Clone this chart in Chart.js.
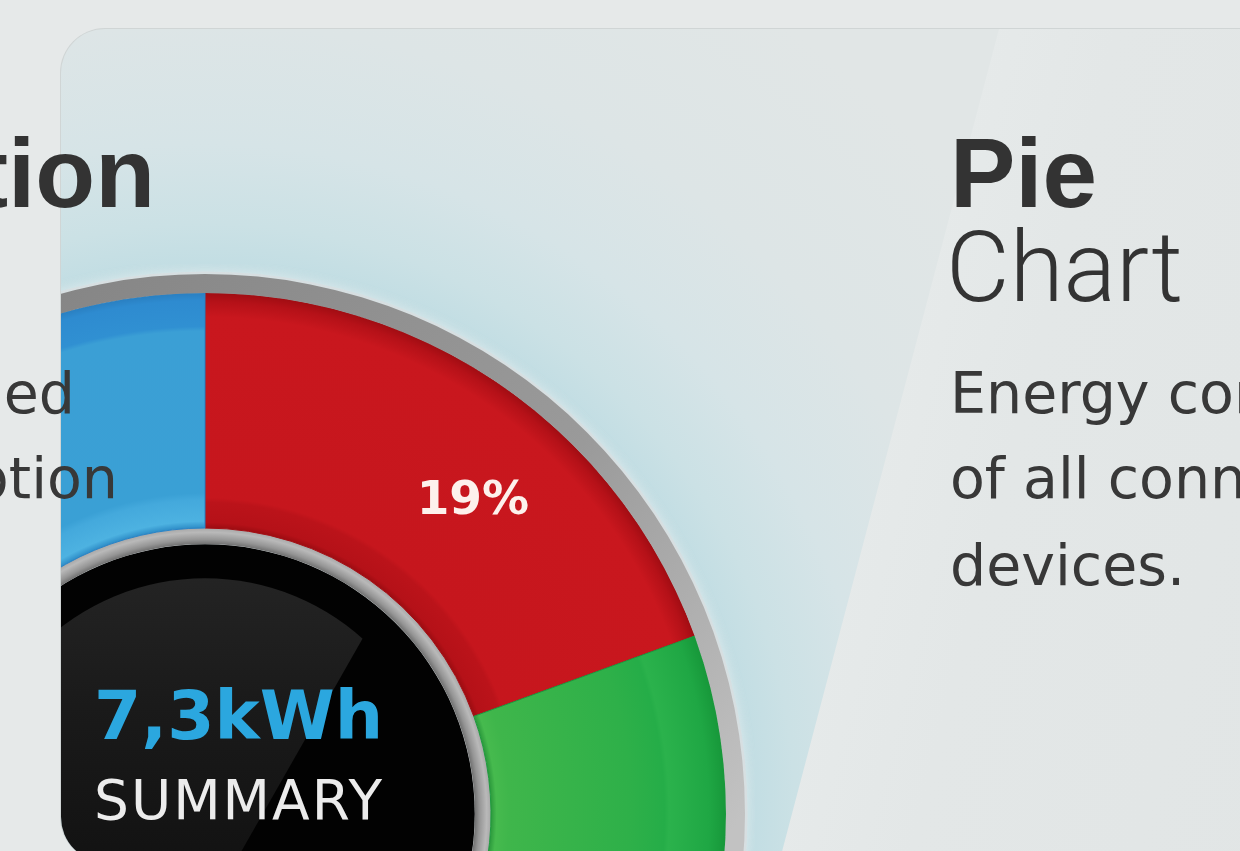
<!DOCTYPE html>
<html>
<head>
<meta charset="utf-8">
<title>Pie Chart</title>
<script src="https://cdn.jsdelivr.net/npm/chart.js@4.4.1/dist/chart.umd.min.js"></script>
<style>
  html, body { margin: 0; padding: 0; }
  body {
    width: 1240px; height: 851px; overflow: hidden; position: relative;
    background: #e6e9e9;
  }
  #panel {
    position: absolute; left: 60px; top: 28px; width: 1300px; height: 834px;
    border-radius: 45px; overflow: hidden;
    border-top: 1px solid #d0d5d5; border-left: 1px solid #d0d5d5;
    box-sizing: border-box;
    background:
      radial-gradient(circle 980px at 144px 785px, #bfdce3 0px, #c1dde3 542px, #cbe1e5 590px, #d6e4e7 670px, #dde5e6 790px, #e1e6e6 980px),
      #e1e6e6;
  }
  #glare {
    position: absolute; left: 0; top: 0; width: 1300px; height: 834px;
    clip-path: polygon(938px 0, 1300px 0, 1300px 834px, 718px 834px);
    background: linear-gradient(104deg, #e6eaea 0, #e6eaea 60%, #e3e7e7 70%, #e1e5e5 100%);
  }
  #chartBox {
    position: absolute; left: -406px; top: 235px; width: 1100px; height: 1100px;
  }
  .txt {
    position: absolute; height: 0; white-space: nowrap; color: #333;
  }
  .bold { font: bold 98px/0 "Liberation Sans", Arial, sans-serif; }
  .light { font: 300 98px/0 Roboto, "Liberation Sans", sans-serif; }
  .desc { font: 57px/0 "DejaVu Sans", Verdana, sans-serif; color: #383838; }
</style>
</head>
<body>
<div id="panel">
  <div id="glare"></div>
  <div id="chartBox"><canvas id="energyChart"></canvas></div>
</div>

<div class="txt bold" style="right:1085px; top:173px;">Consumption</div>
<div class="txt desc" style="right:1165px; top:393px;">Detailed</div>
<div class="txt desc" style="right:1122px; top:478px;">consumption</div>

<div class="txt bold" style="left:950px; top:173px;">Pie</div>
<div class="txt light" style="left:946px; top:268px;">Chart</div>
<div class="txt desc" style="left:950px; top:393px;">Energy consumption</div>
<div class="txt desc" style="left:950px; top:478px;">of all connected</div>
<div class="txt desc" style="left:950px; top:565px;">devices.</div>

<script>
// device consumption in kWh (only red + part of green/blue visible in the shot)
const devices = ['Heating', 'Kitchen', 'Laundry', 'Lighting'];
const consumption = [1.42, 2.08, 1.7, 2.1];
const summaryLabel = 'SUMMARY';

// radial colour bands for the 3D look, t = 0 inner edge .. 1 outer edge
const segmentBands = [
  [[0, '#9c0c11'], [0.025, '#b51118'], [0.11, '#bb131a'], [0.13, '#c6161d'], [0.9, '#c9171e'], [0.965, '#b51118'], [1, '#a20d13']],
  [[0, '#2a973b'], [0.025, '#46ba4e'], [0.08, '#3fb64b'], [0.6, '#2eb049'], [0.74, '#25ad48'], [0.76, '#2bb24c'], [0.93, '#1fa744'], [1, '#17983a']],
  [[0, '#d9800c'], [0.03, '#f6a623'], [0.9, '#f39c12'], [1, '#d68910']],
  [[0, '#2c8bc6'], [0.03, '#4db2e1'], [0.12, '#44a9dc'], [0.15, '#3aa0d5'], [0.84, '#3b9fd5'], [0.86, '#3090d2'], [0.97, '#2e8bd0'], [1, '#2a80c2']]
];
const edgeColors = ['#a30d13', '#1d9a3e', '#c97f0c', '#2a82c4'];

// ring weights: outer steel ring, coloured ring, inner steel ring
const ringWeights = [19, 235, 16];
const total = consumption.reduce((a, b) => a + b, 0);

function ringGeometry(chart) {
  const a = chart.chartArea;
  const cx = (a.left + a.right) / 2, cy = (a.top + a.bottom) / 2;
  const R = Math.min(a.width, a.height) / 2 - 0.5;
  const inner = R * 0.5;
  const unit = (R - inner) / ringWeights.reduce((s, w) => s + w, 0);
  return { cx, cy, R, inner, unit };
}

function radialFill(chart, r0, r1, stops) {
  const g = ringGeometry(chart);
  const grad = chart.ctx.createRadialGradient(g.cx, g.cy, r0, g.cx, g.cy, r1);
  stops.forEach(s => grad.addColorStop(s[0], s[1]));
  return grad;
}

const ctx = document.getElementById('energyChart').getContext('2d');

const discPlugin = {
  id: 'disc',
  beforeDatasetsDraw(chart) {
    const g = ringGeometry(chart);
    const c = chart.ctx;
    const r = g.inner;
    c.save();
    // soft halo outside the steel ring
    c.beginPath();
    c.arc(g.cx, g.cy, g.R + 3, 0, Math.PI * 2);
    c.fillStyle = 'rgba(215,222,224,0.9)';
    c.shadowColor = 'rgba(230,236,238,0.9)';
    c.shadowBlur = 12;
    c.fill();
    c.shadowBlur = 0;
    c.beginPath();
    c.arc(g.cx, g.cy, r, 0, Math.PI * 2);
    c.fillStyle = '#020202';
    c.fill();
    // glossy highlight, cut diagonally
    c.beginPath();
    c.arc(g.cx, g.cy, r * 0.874, 0, Math.PI * 2);
    c.clip();
    c.beginPath();
    c.moveTo(g.cx + r * 1.49, g.cy - r * 2.24);
    c.lineTo(g.cx - r * 0.77, g.cy + r * 1.726);
    c.lineTo(g.cx - r * 4, g.cy + r * 1.726);
    c.lineTo(g.cx - r * 4, g.cy - r * 2.24);
    c.closePath();
    const sh = c.createLinearGradient(0, g.cy - r, 0, g.cy + r * 0.2);
    sh.addColorStop(0, '#262626');
    sh.addColorStop(0.5, '#1a1a1a');
    sh.addColorStop(1, '#121212');
    c.fillStyle = sh;
    c.fill();
    c.restore();
  },
  afterDatasetsDraw(chart) {
    const c = chart.ctx;
    const g = ringGeometry(chart);
    c.save();
    // percentage labels, a little past the middle of each slice
    const meta = chart.getDatasetMeta(1);
    c.fillStyle = '#fdf1ec';
    c.font = 'bold 47px "DejaVu Sans", sans-serif';
    c.textAlign = 'center';
    c.textBaseline = 'middle';
    meta.data.forEach((arc, i) => {
      const p = arc.getProps(['x', 'y', 'startAngle', 'endAngle', 'innerRadius', 'outerRadius'], true);
      const a = p.startAngle + (p.endAngle - p.startAngle) * 0.58;
      const rr = (p.innerRadius + p.outerRadius) / 2 + 8;
      c.fillText(Math.round(consumption[i] / total * 100) + '%', p.x + Math.cos(a) * rr, p.y + Math.sin(a) * rr);
    });
    // summary in the centre
    c.textAlign = 'left';
    c.textBaseline = 'alphabetic';
    c.fillStyle = '#2ba7df';
    c.font = 'bold 68px "DejaVu Sans", sans-serif';
    c.fillText(total.toFixed(1).replace('.', ',') + 'kWh', g.cx - 111, g.cy - 75);
    c.fillStyle = '#ececec';
    c.font = '55px "DejaVu Sans", sans-serif';
    c.letterSpacing = '2px';
    c.fillText(summaryLabel, g.cx - 111, g.cy + 5);
    c.restore();
  }
};

new Chart(ctx, {
  type: 'doughnut',
  data: {
    labels: devices,
    datasets: [
      {
        data: [total],
        weight: ringWeights[0],
        borderWidth: 0,
        backgroundColor: (context) => {
          const chart = context.chart;
          if (!chart.chartArea) return '#8c8c8c';
          const g = ringGeometry(chart);
          const grad = chart.ctx.createLinearGradient(g.cx - g.R * 0.3, g.cy - g.R, g.cx + g.R, g.cy);
          grad.addColorStop(0, '#858585');
          grad.addColorStop(0.6, '#9a9a9a');
          grad.addColorStop(1, '#c2c2c2');
          return grad;
        }
      },
      {
        data: consumption,
        weight: ringWeights[1],
        borderWidth: 1,
        borderColor: edgeColors,
        backgroundColor: (context) => {
          const chart = context.chart;
          const i = context.dataIndex;
          if (!chart.chartArea) return edgeColors[i];
          const g = ringGeometry(chart);
          const outer = g.R - ringWeights[0] * g.unit;
          const inner = outer - ringWeights[1] * g.unit;
          return radialFill(chart, inner, outer, segmentBands[i]);
        }
      },
      {
        data: [total],
        weight: ringWeights[2],
        borderWidth: 0,
        backgroundColor: (context) => {
          const chart = context.chart;
          if (!chart.chartArea) return '#a8a8a8';
          const g = ringGeometry(chart);
          return radialFill(chart, g.inner, g.inner + ringWeights[2] * g.unit,
            [[0, '#6f6f6f'], [0.3, '#959595'], [0.75, '#b9b9b9'], [1, '#a9a9a9']]);
        }
      }
    ]
  },
  options: {
    responsive: true,
    maintainAspectRatio: false,
    animation: false,
    cutout: '50%',
    layout: { padding: 10 },
    elements: { arc: { hoverOffset: 0, offset: 0 } },
    plugins: {
      legend: { display: false },
      tooltip: { enabled: false }
    }
  },
  plugins: [discPlugin]
});
</script>
</body>
</html>
